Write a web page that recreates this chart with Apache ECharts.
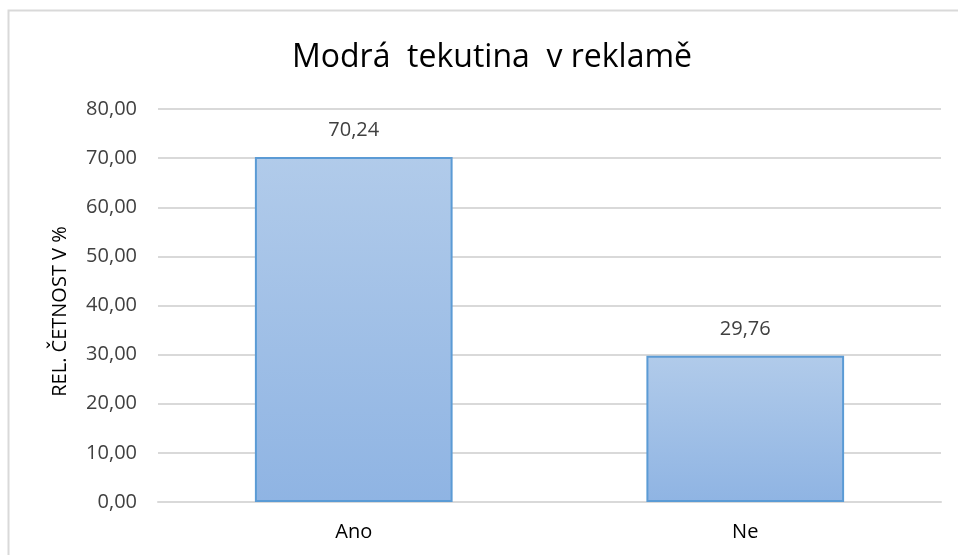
<!DOCTYPE html>
<html><head><meta charset="utf-8">
<script src="https://cdn.jsdelivr.net/npm/echarts@6/dist/echarts.min.js"></script>
<style>html,body{margin:0;padding:0;background:#fff}#c{width:958px;height:555px}</style>
</head><body><div id="c"></div>
<script>
var categories = ["Ano", "Ne"];
var values = [70.24, 29.76];
var yTicks = [0, 10, 20, 30, 40, 50, 60, 70, 80];
var titleText = "Modrá  tekutina  v reklamě";
var yName = "REL. ČETNOST V %";

var fmt = function (v) { return Number(v).toFixed(2).replace('.', ','); };
var chart = echarts.init(document.getElementById('c'));
chart.setOption({
  animation: false,
  backgroundColor: '#fff',
  textStyle: { fontFamily: 'Open Sans' },
  graphic: [{ type: 'rect', shape: { x: 8.5, y: 10.5, width: 970, height: 600 }, style: { fill: 'none', stroke: '#d9d9d9', lineWidth: 2 } }],
  title: { text: titleText, left: 287, top: 37, textStyle: { fontFamily: 'Open Sans', fontSize: 32, fontWeight: 'normal', color: '#000' } },
  grid: { left: 158, right: 17, top: 109, bottom: 53 },
  xAxis: {
    type: 'category', data: categories,
    axisLine: { lineStyle: { color: '#d9d9d9', width: 2 } },
    axisTick: { show: false },
    axisLabel: { color: '#000', fontSize: 20, margin: 20, fontFamily: 'Open Sans' }
  },
  yAxis: {
    type: 'value', min: yTicks[0], max: yTicks[yTicks.length - 1], interval: yTicks[1] - yTicks[0],
    name: yName, nameLocation: 'middle', nameGap: 88, nameRotate: 90,
    nameTextStyle: { color: '#000', fontSize: 20, fontFamily: 'Open Sans', padding: [0, 12, 0, 0] },
    axisLine: { show: false }, axisTick: { show: false },
    axisLabel: { color: '#404040', fontSize: 20, margin: 21, formatter: fmt, fontFamily: 'Open Sans' },
    splitLine: { lineStyle: { color: '#d9d9d9', width: 2 } }
  },
  series: [{
    type: 'bar', data: values, barWidth: '50.5%',
    itemStyle: {
      color: new echarts.graphic.LinearGradient(0, 0, 0, 1, [{ offset: 0, color: '#b1cbea' }, { offset: 1, color: '#8fb4e3' }]),
      borderColor: '#5b9bd5', borderWidth: 2
    },
    label: { show: true, position: 'top', distance: 17, color: '#404040', fontSize: 20, formatter: function (p) { return fmt(p.value); }, fontFamily: 'Open Sans' }
  }]
});
</script></body></html>
